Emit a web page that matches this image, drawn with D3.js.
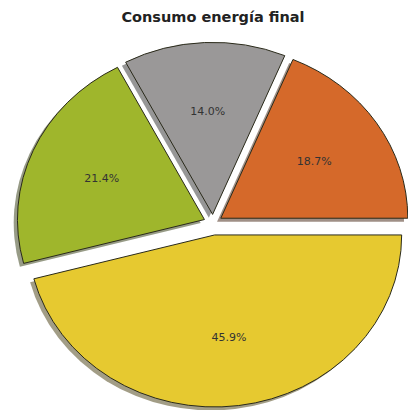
<!DOCTYPE html>
<html>
<head>
<meta charset="utf-8">
<script src="https://cdn.jsdelivr.net/npm/d3@7"></script>
<style>
  html, body { margin: 0; padding: 0; background: #fff; }
  svg { display: block; }
</style>
</head>
<body>
<div id="chart"></div>
<script>
'use strict';

// data
var sectors = ['Sector 1', 'Sector 2', 'Sector 3', 'Sector 4'];
var shares = [18.7, 14.0, 21.4, 45.9];
var explode = [0.05, 0.05, 0.05, 0.07];
var sliceColors = ['#d5692a', '#9a9898', '#9fb62c', '#e6c930'];
var title = 'Consumo energía final';

var width = 408,
    height = 410,
    cx = 213, cy = 223,
    rx = 187, ry = 172;

var svg = d3.select('#chart').append('svg')
    .attr('width', width)
    .attr('height', height);

// unit coords (radius 1, y up) -> pixels
var x = d3.scaleLinear().domain([-1, 1]).range([cx - rx, cx + rx]);
var y = d3.scaleLinear().domain([-1, 1]).range([cy + ry, cy - ry]);

// matplotlib style: start at 3 o'clock, go counterclockwise
var pie = d3.pie()
    .sort(null)
    .startAngle(Math.PI / 2)
    .endAngle(Math.PI / 2 - 2 * Math.PI)
    .value(function (d) { return d; });

var arcs = pie(shares);
arcs.forEach(function (d, i) {
    var mid = (d.startAngle + d.endAngle) / 2;
    d.ox = explode[i] * Math.sin(mid);
    d.oy = explode[i] * Math.cos(mid); // y up
    d.mid = mid;
});

var arc = d3.arc().innerRadius(0).outerRadius(1);

var unit = svg.append('g')
    .attr('transform', 'translate(' + x(0) + ',' + y(0) + ') scale(' + (x(1) - x(0)) + ',' + (y(0) - y(1)) + ')');

// shadows (all under the wedges)
unit.selectAll('path.shadow')
    .data(arcs)
    .enter().append('path')
    .attr('class', 'shadow')
    .attr('d', arc)
    .attr('transform', function (d) {
        return 'translate(' + (d.ox - 0.02) + ',' + (-d.oy + 0.02) + ')';
    })
    .style('fill', function (d, i) {
        var c = d3.rgb(sliceColors[i]);
        return d3.rgb(c.r * 0.3, c.g * 0.3, c.b * 0.3);
    })
    .style('fill-opacity', 0.5)
    .style('stroke', 'none');

unit.selectAll('path.wedge')
    .data(arcs)
    .enter().append('path')
    .attr('class', 'wedge')
    .attr('d', arc)
    .attr('transform', function (d) {
        return 'translate(' + d.ox + ',' + (-d.oy) + ')';
    })
    .style('fill', function (d, i) { return sliceColors[i]; })
    .style('stroke', '#2a2a1a')
    .style('stroke-width', 1)
    .attr('vector-effect', 'non-scaling-stroke');

// percentage labels at 0.6 of the radius
svg.selectAll('text.pct')
    .data(arcs)
    .enter().append('text')
    .attr('class', 'pct')
    .attr('x', function (d) { return x(d.ox + 0.6 * Math.sin(d.mid)); })
    .attr('y', function (d) { return y(d.oy + 0.6 * Math.cos(d.mid)); })
    .attr('dy', '0.35em')
    .attr('text-anchor', 'middle')
    .style('font-family', '"DejaVu Sans", sans-serif')
    .style('font-size', '11px')
    .style('fill', '#333')
    .text(function (d) { return d.data.toFixed(1) + '%'; });

svg.append('text')
    .attr('x', 213)
    .attr('y', 22)
    .attr('text-anchor', 'middle')
    .style('font-family', '"DejaVu Sans", sans-serif')
    .style('font-weight', 'bold')
    .style('font-size', '14.5px')
    .style('fill', '#222')
    .text(title);
</script>
</body>
</html>
